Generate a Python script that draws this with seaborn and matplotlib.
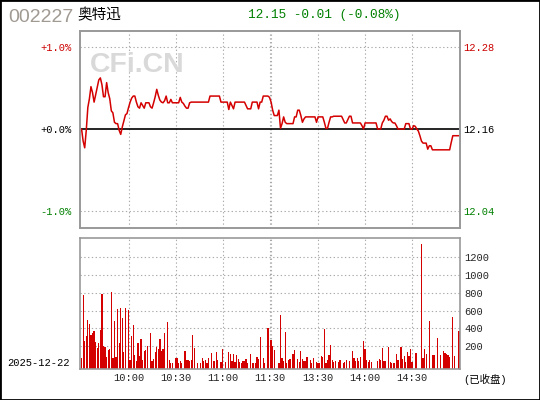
import numpy as np
import matplotlib
matplotlib.use('Agg')
import matplotlib.pyplot as plt
from matplotlib.patches import Rectangle
import seaborn as sns

# intraday price, one value per minute slot
price = [12.160, 12.142, 12.132, 12.158, 12.192, 12.205, 12.223, 12.214, 12.200, 12.211,
         12.222, 12.233, 12.236, 12.226, 12.208, 12.208, 12.229, 12.214, 12.205, 12.187,
         12.184, 12.170, 12.168, 12.168, 12.158, 12.152, 12.163, 12.172, 12.181, 12.183,
         12.192, 12.200, 12.206, 12.209, 12.209, 12.200, 12.193, 12.191, 12.199, 12.195,
         12.191, 12.199, 12.199, 12.199, 12.193, 12.191, 12.199, 12.208, 12.219, 12.210,
         12.203, 12.200, 12.199, 12.202, 12.209, 12.199, 12.199, 12.204, 12.199, 12.199,
         12.199, 12.199, 12.199, 12.207, 12.200, 12.198, 12.194, 12.191, 12.191, 12.199,
         12.200, 12.200, 12.200, 12.200, 12.200, 12.200, 12.200, 12.200, 12.200, 12.200,
         12.200, 12.200, 12.209, 12.209, 12.209, 12.209, 12.209, 12.209, 12.209, 12.200,
         12.200, 12.200, 12.200, 12.200, 12.189, 12.200, 12.195, 12.190, 12.200, 12.200,
         12.200, 12.200, 12.200, 12.200, 12.200, 12.195, 12.190, 12.190, 12.190, 12.200,
         12.200, 12.200, 12.200, 12.190, 12.200, 12.200, 12.209, 12.209, 12.209, 12.209,
         12.207, 12.200, 12.188, 12.180, 12.180, 12.180, 12.188, 12.161, 12.168, 12.178,
         12.170, 12.168, 12.168, 12.168, 12.168, 12.168, 12.178, 12.178, 12.188, 12.188,
         12.180, 12.170, 12.175, 12.178, 12.178, 12.178, 12.178, 12.178, 12.178, 12.178,
         12.170, 12.178, 12.178, 12.178, 12.178, 12.170, 12.161, 12.161, 12.170, 12.178,
         12.178, 12.179, 12.179, 12.179, 12.179, 12.179, 12.179, 12.174, 12.169, 12.169,
         12.174, 12.179, 12.179, 12.169, 12.169, 12.169, 12.169, 12.169, 12.169, 12.165,
         12.160, 12.169, 12.169, 12.169, 12.169, 12.169, 12.169, 12.169, 12.169, 12.160,
         12.160, 12.160, 12.169, 12.173, 12.179, 12.179, 12.173, 12.175, 12.171, 12.169,
         12.169, 12.165, 12.160, 12.160, 12.160, 12.160, 12.160, 12.168, 12.168, 12.168,
         12.160, 12.160, 12.165, 12.164, 12.160, 12.157, 12.150, 12.142, 12.139, 12.139,
         12.139, 12.130, 12.135, 12.135, 12.129, 12.129, 12.129, 12.129, 12.129, 12.129,
         12.129, 12.129, 12.129, 12.129, 12.129, 12.129, 12.140, 12.150, 12.150, 12.150,
         12.150, 12.150]

# volume per minute slot (0 = no bar)
volume = [65, 775, 256, 313, 493, 448, 324, 347, 369, 245,
          177, 234, 380, 787, 200, 189, 76, 155, 166, 809,
          65, 482, 76, 617, 234, 629, 516, 132, 629, 0,
          606, 42, 313, 437, 99, 31, 234, 87, 279, 42,
          144, 155, 200, 0, 347, 31, 53, 132, 189, 166,
          279, 144, 166, 347, 0, 471, 42, 8, 8, 0,
          65, 65, 8, 31, 8, 0, 144, 42, 42, 31,
          42, 324, 177, 0, 8, 0, 8, 65, 31, 42,
          8, 65, 0, 121, 31, 31, 132, 42, 0, 20,
          166, 0, 20, 0, 132, 110, 31, 110, 20, 99,
          53, 20, 8, 31, 31, 53, 8, 0, 110, 8,
          8, 8, 76, 53, 302, 0, 65, 8, 0, 402,
          0, 268, 200, 155, 0, 0, 8, 550, 65, 31,
          358, 8, 42, 53, 0, 110, 155, 0, 53, 20,
          144, 53, 31, 31, 76, 0, 42, 8, 65, 0,
          20, 8, 8, 87, 76, 392, 8, 42, 99, 211,
          42, 20, 31, 0, 20, 42, 0, 8, 20, 42,
          0, 31, 0, 144, 65, 31, 65, 31, 76, 0,
          256, 166, 42, 20, 42, 20, 0, 0, 0, 31,
          53, 42, 177, 31, 31, 0, 189, 20, 8, 8,
          8, 110, 42, 0, 189, 53, 87, 20, 132, 87,
          166, 20, 0, 121, 121, 0, 0, 1350, 65, 166,
          110, 0, 482, 0, 99, 99, 0, 290, 0, 99,
          0, 144, 121, 110, 99, 76, 0, 527, 87, 0,
          0, 369]

prev_close = 12.16
left_labels = ['+1.0%', '+0.0%', '-1.0%']
right_labels = ['12.28', '12.16', '12.04']
label_colors = ['#cc0000', 'black', '#008000']
vol_ticks = [200, 400, 600, 800, 1000, 1200]
time_ticks = [30, 60, 90, 120, 151, 181, 211]
time_labels = ['10:00', '10:30', '11:00', '11:30', '13:30', '14:00', '14:30']
grid_slots = [30, 60, 90, 120, 121, 151, 181, 211]

RED = '#d40000'
GRID = '#aaaaaa'
SPINE = '#999999'
dots = (0, (1.2, 2.2))

sns.set_style('white')
plt.rcParams['font.family'] = ['Liberation Mono', 'Noto Sans CJK SC']

minutes = np.arange(len(price))
price = np.array(price)
volume = np.array(volume)

fig = plt.figure(figsize=(5.4, 4.0), dpi=100)
ax = fig.add_axes([80 / 540, 1 - 228 / 400, 380 / 540, 197 / 400])
axv = fig.add_axes([80 / 540, 1 - 369.3 / 400, 380 / 540, 131.3 / 400])

# price panel
ax.set_xlim(-1, 241.6)
ax.set_ylim(12.0127, 12.3058)
for m in grid_slots:
    ax.axvline(m, color=GRID, lw=0.8, ls=dots, zorder=0)
tick_vals = [prev_close * 1.01, prev_close, prev_close * 0.99]
for v in (tick_vals[0], tick_vals[2]):
    ax.axhline(v, color=GRID, lw=0.8, ls=dots, zorder=0)
ax.axhline(prev_close, color='black', lw=1.2, zorder=1.5)
sns.lineplot(x=minutes, y=price, ax=ax, color=RED, lw=1.1, zorder=2)
ax.text(90 / 540, 1 - 65 / 400, 'CFi.CN', transform=fig.transFigure, fontsize=20.5,
        fontweight='bold', family='Liberation Sans', color='#d9d9d9', va='center',
        ha='left', zorder=0.5)
ax.set_xticks([])
ax.set_xlabel('')
ax.set_ylabel('')
ax.set_yticks(tick_vals)
ax.set_yticklabels(left_labels)
ax.tick_params(axis='y', length=0, pad=6, labelsize=7.5)
for t, c in zip(ax.get_yticklabels(), label_colors):
    t.set_color(c)

axr = ax.twinx()
axr.set_ylim(ax.get_ylim())
axr.set_yticks(tick_vals)
axr.set_yticklabels(right_labels)
axr.tick_params(axis='y', length=0, pad=2, labelsize=7.5)
for t, c in zip(axr.get_yticklabels(), label_colors):
    t.set_color(c)

# volume panel
vol_floor = -63
has_vol = volume > 0
axv.set_xlim(-1, 241.6)
axv.set_ylim(vol_floor, 1418)
for m in grid_slots:
    axv.axvline(m, color=GRID, lw=0.8, ls=dots, zorder=0)
for v in vol_ticks:
    axv.axhline(v, color=GRID, lw=0.8, ls=dots, zorder=0)
axv.bar(minutes[has_vol], volume[has_vol] - vol_floor, bottom=vol_floor,
        width=0.8, color=RED, lw=0, zorder=2)
axv.yaxis.tick_right()
axv.set_yticks(vol_ticks)
axv.set_yticklabels([str(v) for v in vol_ticks])
axv.set_xticks(time_ticks)
axv.set_xticklabels(time_labels)
axv.tick_params(axis='y', length=0, pad=3, labelsize=7.5)
axv.tick_params(axis='x', length=0, pad=2.5, labelsize=7.5)

for a in (ax, axr, axv):
    for s in a.spines.values():
        s.set_color(SPINE)
        s.set_linewidth(1.2)

# header and footer texts
fig.text(8 / 540, 1 - 17 / 400, '002227', fontsize=14, family='Liberation Sans',
         color='#a09a92', va='center', ha='left')
fig.text(77 / 540, 1 - 15 / 400, '奥特迅', fontsize=10.5, family='Noto Sans CJK SC',
         color='black', va='center', ha='left')
fig.text(248 / 540, 1 - 15 / 400, '12.15 -0.01 (-0.08%)', fontsize=9.2,
         family='Liberation Mono', color='#008000', va='center', ha='left')
fig.text(7 / 540, 1 - 363 / 400, '2025-12-22', fontsize=7.5, color='black',
         va='center', ha='left')
fig.text(463 / 540, 1 - 379 / 400, '(已收盘)', fontsize=7.5, color='black',
         va='center', ha='left')

fig.add_artist(Rectangle((0, 0), 1, 1, transform=fig.transFigure, fill=False,
                         edgecolor='black', lw=2, zorder=10))

fig.savefig('out.png', dpi=100)
